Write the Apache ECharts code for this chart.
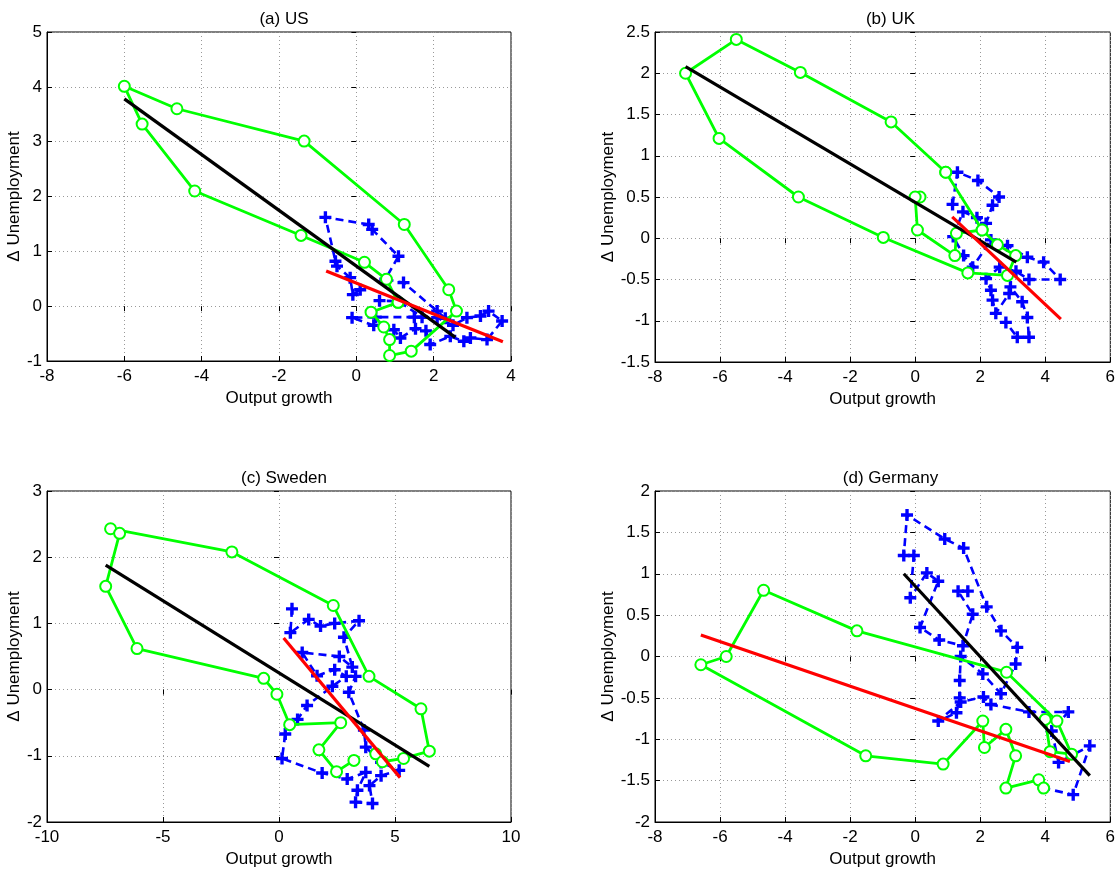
<!DOCTYPE html>
<html><head><meta charset="utf-8">
<script src="https://cdn.jsdelivr.net/npm/echarts@6/dist/echarts.min.js"></script>
<style>html,body{margin:0;padding:0;background:#fff}#c{width:1118px;height:871px}</style>
</head><body><div id="c"></div>
<script>
// ---------- data: [output growth, Δ unemployment] ----------
const usGreen = [[1.08,0.07],[0.38,-0.11],[0.71,-0.38],[0.86,-0.61],[0.86,-0.90],[1.42,-0.82],[2.59,-0.09],[2.39,0.30],[1.24,1.49],[-1.35,3.01],[-4.64,3.60],[-6.00,4.01],[-5.54,3.32],[-4.18,2.10],[-1.43,1.29],[0.21,0.80],[0.78,0.49],[1.08,0.07]];
const usBlue = [[0.10,0.30],[-0.09,0.21],[-0.16,0.52],[-0.50,0.73],[-0.54,0.82],[-0.80,1.62],[0.32,1.49],[0.41,1.40],[1.09,0.91],[0.75,0.49],[1.22,0.43],[2.09,-0.09],[2.30,-0.22],[1.50,-0.20],[0.50,-0.20],[-0.11,-0.21],[0.45,-0.35],[0.97,-0.43],[1.14,-0.58],[1.53,-0.41],[1.80,-0.45],[1.91,-0.70],[2.43,-0.55],[2.78,-0.64],[2.95,-0.58],[3.38,-0.61],[3.77,-0.27],[3.42,-0.09],[3.21,-0.18],[2.86,-0.21],[2.50,-0.35],[2.09,-0.21],[1.70,-0.20],[1.09,0.09],[0.60,0.10]];
const usBlack = [[-6.00,3.78],[2.56,-0.57]];
const usRed = [[-0.78,0.64],[3.79,-0.65]];

const ukGreen1 = [[0.94,0.80],[2.06,0.10],[2.53,-0.08],[3.09,-0.21],[2.84,-0.45],[1.62,-0.42],[-0.98,0.01],[-3.59,0.50],[-6.03,1.21],[-7.06,2.00],[-5.50,2.41],[-3.53,2.01],[-0.74,1.41],[0.94,0.80]];
const ukGreen2 = [[0.15,0.50],[0.00,0.50],[0.07,0.10],[1.22,-0.21],[1.27,0.06],[2.06,0.10]];
const ukBlue = [[1.15,0.41],[1.30,0.80],[1.93,0.70],[2.58,0.50],[2.38,0.40],[2.18,0.18],[1.90,0.25],[1.47,0.32],[1.17,0.02],[1.49,-0.21],[1.77,-0.35],[2.33,-0.02],[2.84,-0.09],[3.45,-0.23],[3.95,-0.29],[4.46,-0.50],[3.50,-0.50],[3.10,-0.40],[2.60,-0.35],[2.18,-0.49],[2.33,-0.63],[2.38,-0.75],[2.48,-0.91],[2.89,-0.67],[2.93,-0.59],[3.29,-0.77],[3.45,-0.96],[3.50,-1.20],[3.14,-1.20],[2.79,-1.02]];
const ukBlack = [[-7.06,2.08],[3.11,-0.29]];
const ukRed = [[1.14,0.26],[4.48,-0.98]];

const seGreen = [[4.17,-0.97],[4.46,-1.09],[5.37,-1.04],[6.48,-0.93],[6.12,-0.29],[3.88,0.20],[2.34,1.27],[-2.03,2.08],[-7.26,2.43],[-6.87,2.36],[-7.47,1.56],[-6.12,0.62],[-0.66,0.17],[-0.09,-0.07],[0.46,-0.53],[2.66,-0.50],[1.72,-0.91],[2.48,-1.24],[3.23,-1.07]];
const seBlue = [[0.56,1.22],[0.49,0.86],[1.28,1.06],[1.79,0.96],[2.40,1.00],[3.45,1.04],[2.80,0.79],[3.16,0.34],[2.60,0.50],[1.00,0.56],[1.64,0.21],[2.40,0.30],[2.90,0.20],[2.30,0.05],[1.21,-0.24],[0.80,-0.45],[0.27,-0.67],[0.13,-1.04],[1.86,-1.26],[2.94,-1.35],[3.74,-1.25],[3.38,-1.52],[3.30,-1.70],[4.03,-1.72],[3.90,-1.45],[4.40,-1.30],[5.18,-1.22],[4.40,-1.10],[3.74,-0.87],[3.66,-0.61],[3.01,-0.04],[3.30,0.20]];
const seBlack = [[-7.47,1.88],[6.48,-1.16]];
const seRed = [[0.20,0.78],[5.22,-1.33]];

const deGreen = [[4.00,-0.76],[4.15,-1.15],[4.81,-1.18],[4.36,-0.78],[2.81,-0.19],[-1.79,0.31],[-4.66,0.80],[-5.81,0.00],[-6.59,-0.10],[-1.52,-1.20],[0.86,-1.30],[2.08,-0.78],[2.13,-1.10],[2.79,-0.88],[3.09,-1.20],[2.79,-1.59],[3.80,-1.49],[3.95,-1.59]];
const deBlue = [[1.62,0.79],[1.32,0.79],[1.77,0.51],[1.47,0.13],[0.74,0.20],[0.15,0.35],[0.71,0.91],[0.36,1.01],[-0.15,0.71],[-0.04,1.22],[-0.35,1.22],[-0.25,1.71],[0.91,1.42],[1.49,1.31],[2.20,0.60],[2.64,0.31],[3.14,0.11],[3.09,-0.09],[2.64,-0.45],[2.08,-0.21],[1.40,0.00],[1.37,-0.29],[1.37,-0.50],[1.27,-0.68],[0.71,-0.78],[1.40,-0.55],[2.10,-0.49],[2.33,-0.58],[3.50,-0.67],[4.71,-0.67],[4.20,-0.90],[4.41,-1.28],[5.37,-1.08],[4.86,-1.67],[3.95,-1.59]];
const deBlack = [[-0.35,1.00],[5.37,-1.44]];
const deRed = [[-6.59,0.26],[4.76,-1.27]];

const titles = ['(a) US','(b) UK','(c) Sweden','(d) Germany'];
const xRanges = [[-8,4,2],[-8,6,2],[-10,10,5],[-8,6,2]];
const yRanges = [[-1,5,1],[-1.5,2.5,0.5],[-2,3,1],[-2,2,0.5]];
const xName = 'Output growth';
const yName = 'Δ Unemployment';

// ---------- layout / styles ----------
const layout = [
  {left:47, top:32, width:464, height:329, yGap:20},
  {left:655, top:32, width:461, height:330, yGap:32},
  {left:47, top:491, width:464, height:331, yGap:20},
  {left:655, top:491, width:461, height:331, yGap:32}
];
const greens = [[usGreen],[ukGreen1, ukGreen2],[seGreen],[deGreen]];
const blues = [usBlue, ukBlue, seBlue, deBlue];
const blacks = [usBlack, ukBlack, seBlack, deBlack];
const reds = [usRed, ukRed, seRed, deRed];

const FONT = 'Liberation Sans, Arial, sans-serif';
const FS = 17;
const plus = 'path://M3.6,0H6.4V3.6H10V6.4H6.4V10H3.6V6.4H0V3.6H3.6Z';

const grid=[], xAxis=[], yAxis=[], series=[], title=[];
layout.forEach((L,i)=>{
  grid.push({left:L.left, top:L.top, width:L.width, height:L.height, show:true, borderColor:'#000', borderWidth:1, containLabel:false});
  title.push({text:titles[i], left:L.left + L.width/2, top:L.top-26, textAlign:'center',
    textStyle:{fontFamily:FONT, fontSize:FS, fontWeight:'normal', color:'#000'}});
  const [xmin,xmax,xi]=xRanges[i], [ymin,ymax,yi]=yRanges[i];
  xAxis.push({type:'value', gridIndex:i, min:xmin, max:xmax, interval:xi, position:'bottom',
    name:xName, nameLocation:'middle', nameGap:29, nameTextStyle:{fontFamily:FONT, fontSize:FS, color:'#000'},
    axisLine:{show:true, onZero:false, lineStyle:{color:'#000'}},
    axisTick:{show:true, inside:true, length:5, lineStyle:{color:'#000'}},
    axisLabel:{fontFamily:FONT, fontSize:FS, color:'#000', margin:7},
    splitLine:{show:true, lineStyle:{color:'#999', type:[1,3], width:1}}});
  xAxis.push({type:'value', gridIndex:i, min:xmin, max:xmax, interval:xi, position:'top',
    axisLine:{show:false}, axisTick:{show:true, inside:true, length:5, lineStyle:{color:'#000'}},
    axisLabel:{show:false}, splitLine:{show:false}});
  yAxis.push({type:'value', gridIndex:i, min:ymin, max:ymax, interval:yi, position:'left',
    name:yName, nameLocation:'middle', nameGap:L.yGap, nameRotate:90,
    nameTextStyle:{fontFamily:FONT, fontSize:FS, color:'#000'},
    axisLine:{show:true, onZero:false, lineStyle:{color:'#000'}},
    axisTick:{show:true, inside:true, length:5, lineStyle:{color:'#000'}},
    axisLabel:{fontFamily:FONT, fontSize:FS, color:'#000', margin:5},
    splitLine:{show:true, lineStyle:{color:'#999', type:[1,3], width:1}}});
  yAxis.push({type:'value', gridIndex:i, min:ymin, max:ymax, interval:yi, position:'right',
    axisLine:{show:false}, axisTick:{show:true, inside:true, length:5, lineStyle:{color:'#000'}},
    axisLabel:{show:false}, splitLine:{show:false}});
  const xa = 2*i, ya = 2*i;
  series.push({type:'line', xAxisIndex:xa, yAxisIndex:ya, data:blues[i], symbol:plus, symbolSize:12,
    itemStyle:{color:'#0000ff'}, lineStyle:{color:'#0000ff', width:2.6, type:[8,5]}, z:2});
  greens[i].forEach(g=>series.push({type:'line', xAxisIndex:xa, yAxisIndex:ya, data:g, symbol:'emptyCircle', symbolSize:11,
    itemStyle:{color:'#00ff00', borderColor:'#00ff00', borderWidth:2.4}, lineStyle:{color:'#00ff00', width:2.8}, z:3}));
  series.push({type:'line', xAxisIndex:xa, yAxisIndex:ya, data:blacks[i], symbol:'none',
    lineStyle:{color:'#000', width:3.2}, z:4});
  series.push({type:'line', xAxisIndex:xa, yAxisIndex:ya, data:reds[i], symbol:'none',
    lineStyle:{color:'#ff0000', width:3.2}, z:5});
});

const chart = echarts.init(document.getElementById('c'), null, {renderer:'canvas'});
chart.setOption({animation:false, backgroundColor:'#fff', title, grid, xAxis, yAxis, series});
</script></body></html>
